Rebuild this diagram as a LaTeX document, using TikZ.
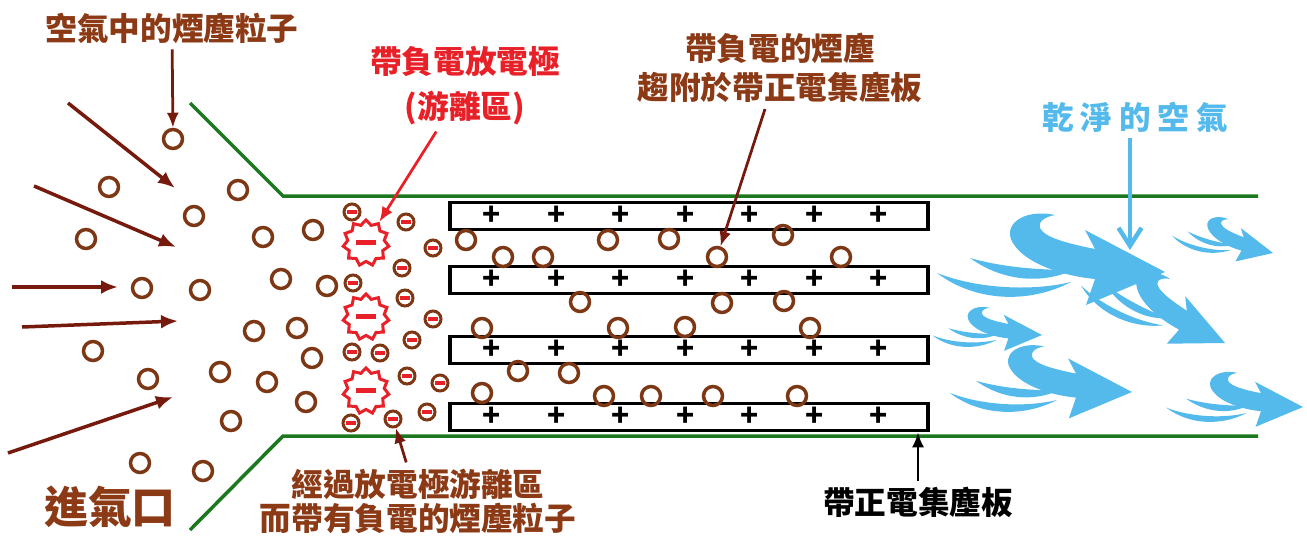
\documentclass[tikz,border=0pt]{standalone}
\usepackage{fontspec}
\usepackage{tikz}
\usetikzlibrary{arrows.meta,shapes.geometric}

\newfontfamily\cjk{Noto Sans CJK TC}

\definecolor{dustbrown}{RGB}{125,55,20}
\definecolor{textbrown}{RGB}{140,58,22}
\definecolor{arrowred}{RGB}{118,26,14}
\definecolor{ionred}{RGB}{232,32,40}
\definecolor{ductgreen}{RGB}{28,120,30}
\definecolor{airblue}{RGB}{84,186,236}

\tikzset{
    dust/.style={circle, draw=dustbrown, line width=0.7mm, minimum size=3.8mm, inner sep=0pt},
    negdust/.style={circle, draw=dustbrown, line width=0.6mm, minimum size=3.2mm, inner sep=0pt,
        path picture={\fill[ionred] ([xshift=-1mm,yshift=-0.35mm]path picture bounding box.center)
            rectangle ([xshift=1mm,yshift=0.35mm]path picture bounding box.center);}},
    electrode/.style={star, star points=11, star point ratio=1.25, draw=ionred, line width=0.6mm,
        fill=white, minimum size=9.2mm, inner sep=0pt,
        path picture={\fill[ionred] ([xshift=-2mm,yshift=-0.45mm]path picture bounding box.center)
            rectangle ([xshift=2mm,yshift=0.45mm]path picture bounding box.center);}},
    plate/.style={draw, line width=0.7mm, minimum width=95.6mm, minimum height=5.4mm, inner sep=0pt},
    plus/.style={font=\cjk\bfseries\fontsize{17}{17}\selectfont, inner sep=0pt},
    duct/.style={ductgreen, line width=0.7mm},
    inflow/.style={arrowred, line width=0.7mm, -{Latex[length=3.4mm,width=2.8mm]}},
    pointer/.style={line width=0.55mm, -{Latex[length=3mm,width=2.4mm]}},
    lbl/.style={font=\cjk\bfseries\fontsize{18}{#1}\selectfont, align=center},
    lbl/.default=22pt,
    swoosh/.pic={
        \fill[airblue] (0,0) -- (-80,-42) -- (-70,-23)
            .. controls (-100,-29) and (-121,-35) .. (-125,-44)
            .. controls (-127,-50) and (-121,-55) .. (-110,-57)
            .. controls (-142,-64) and (-166,-46) .. (-150,-26)
            .. controls (-137,-8) and (-102,4) .. (-70,7)
            -- (-79,33) -- cycle;
        \fill[airblue] (-195,-14) .. controls (-162,10) and (-122,12) .. (-92,-2)
            .. controls (-122,-2) and (-160,-4) .. (-195,-14) -- cycle;
        \fill[airblue] (-228,1) .. controls (-190,30) and (-136,32) .. (-94,10)
            .. controls (-136,20) and (-190,16) .. (-228,1) -- cycle;
    }
}

\begin{document}
\begin{tikzpicture}[x=0.2mm, y=-0.2mm]
    \useasboundingbox (0,0) rectangle (1307,542);

    \draw [duct] (190,103) -- (283,196) -- (1258,196);
    \draw [duct] (190,530) -- (283,436) -- (1258,436);

    \foreach \y [count=\i] in {216,280,350,417} {
        \node [plate] (plate\i) at (689,\y) {};
        \foreach \k in {0,...,6}
            \node [plus] (plus\i-\k) at (492+64.5*\k,\y) {+};
    }

    \foreach \x/\y [count=\i] in {109/187, 238/190, 194/216, 86/239, 263/237, 313/230,
            142/288, 200/290, 281/279, 327/286, 93/351, 148/379, 220/372, 254/331,
            297/328, 267/382, 312/358, 306/402, 231/421, 140/463, 203/471}
        \node [dust] (air\i) at (\x,\y) {};
    \node [dust] (toppart) at (173,139) {};

    \foreach \x/\y [count=\i] in {466/240, 503/257, 543/257, 608/240, 669/239, 783/235,
            841/257, 580/302, 722/303, 784/301, 482/328, 618/328, 685/327, 810/328,
            518/371, 569/373, 482/393, 604/396, 651/396, 713/396, 797/396}
        \node [dust] (held\i) at (\x,\y) {};
    \node [dust] (caught) at (717,257) {};

    \foreach \x/\y [count=\i] in {352/212, 406/222, 433/248, 402/268, 353/283, 405/298,
            433/319, 412/340, 352/352, 380/353, 407/376, 440/383, 427/412, 351/423}
        \node [negdust] (neg\i) at (\x,\y) {};
    \node [negdust] (charged) at (393,419) {};

    \foreach \y [count=\i] in {243,317,391}
        \node [electrode] (elec\i) at (366,\y) {};

    \foreach \a/\b/\c/\d [count=\i] in {68/103/175/188, 34/186/176/247, 12/287/118/287,
            22/327/178/321, 8/453/173/397} {
        \coordinate (in\i) at (\a,\b);
        \coordinate (to\i) at (\c,\d);
        \draw [inflow] (in\i) -- (to\i);
    }

    \pic at (1165,272) {swoosh};
    \pic [scale=0.45, rotate=-10] at (1273,253) {swoosh};
    \pic [scale=0.68, rotate=-22] at (1225,343) {swoosh};
    \pic [scale=0.48] at (1042,335) {swoosh};
    \pic [scale=0.8] at (1132,392) {swoosh};
    \pic [scale=0.6] at (1303,407) {swoosh};

    \node [lbl, textbrown] (airlbl) at (172,28) {空氣中的煙塵粒子};
    \draw [pointer, arrowred] (airlbl) -- (toppart);

    \node [lbl=25.6pt, ionred] (ionlbl) at (465,86) {帶負電放電極\\(游離區)};
    \draw [pointer, ionred] (ionlbl) -- (elec1);

    \node [lbl=22.2pt, textbrown] (heldlbl) at (780,68) {帶負電的煙塵\\趨附於帶正電集塵板};
    \draw [pointer, arrowred] ([xshift=-3mm]heldlbl.south) -- (caught);

    \node [lbl, airblue, font=\cjk\bfseries\fontsize{18}{22}\selectfont\addfontfeature{LetterSpace=22}]
        (cleanlbl) at (1135,117) {乾淨的空氣};
    \coordinate (cleanair) at (1130,250);
    \draw [airblue, line width=0.9mm, -{Straight Barb[length=3.6mm,width=4.6mm]}]
        (cleanlbl.south -| cleanair) -- (cleanair);

    \node [lbl] (platelbl) at (918,502) {帶正電集塵板};
    \draw [pointer] (platelbl) -- (platelbl |- plate4.south);

    \node [lbl=19.4pt, textbrown] (chargedlbl) at (418,501) {經過放電極游離區\\而帶有負電的煙塵粒子};
    \draw [pointer, arrowred] (chargedlbl) -- (charged);

    \node [textbrown, font=\cjk\bfseries\fontsize{25}{30}\selectfont] (inletlbl) at (110,507) {進氣口};
\end{tikzpicture}
\end{document}
